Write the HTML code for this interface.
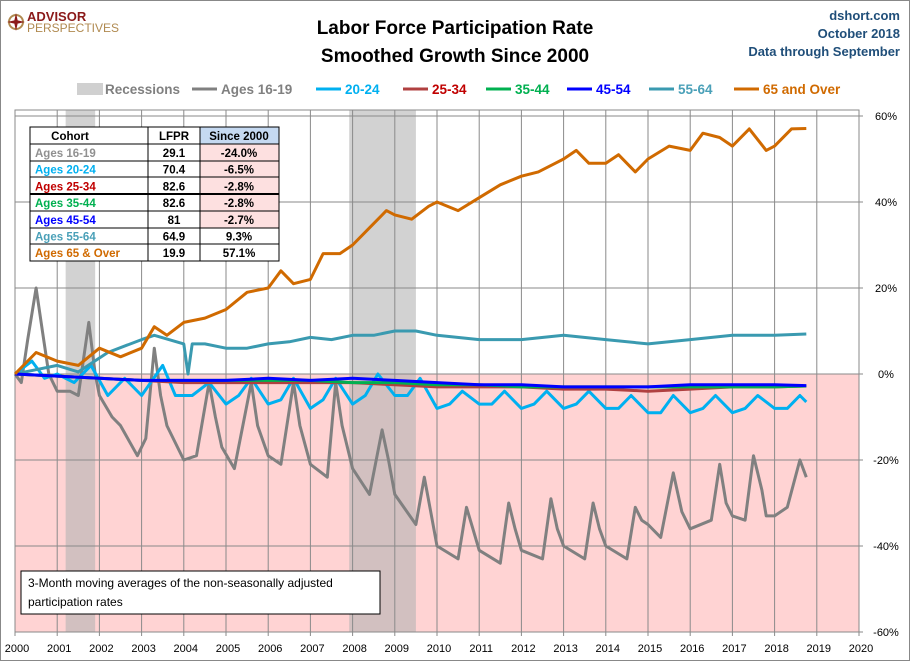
<!DOCTYPE html>
<html><head><meta charset="utf-8"><style>
body{margin:0;background:#fff;font-family:"Liberation Sans",sans-serif}
svg text{font-family:"Liberation Sans",sans-serif}
</style></head><body>
<svg id="chart" width="910" height="661" xmlns="http://www.w3.org/2000/svg">
<rect x="0.5" y="0.5" width="909" height="660" fill="#fff" stroke="#888"/>
<g>
<circle cx="16" cy="22" r="7" fill="none" stroke="#b08a50" stroke-width="2"/>
<path d="M16 13 L18 22 L16 31 L14 22 Z M7 22 L16 20 L25 22 L16 24 Z" fill="#8b1a1a"/>
<text x="27" y="21" font-size="13" font-weight="bold" fill="#8b1a1a">ADVISOR</text>
<text x="27" y="32" font-size="12" fill="#b08a50">PERSPECTIVES</text>
</g>
<text x="455" y="34" text-anchor="middle" font-size="19" font-weight="bold" fill="#000">Labor Force Participation Rate</text>
<text x="455" y="62" text-anchor="middle" font-size="19" font-weight="bold" fill="#000">Smoothed Growth Since 2000</text>
<text x="900" y="20" text-anchor="end" font-size="13" font-weight="bold" fill="#1f4e79">dshort.com</text>
<text x="900" y="38" text-anchor="end" font-size="13" font-weight="bold" fill="#1f4e79">October 2018</text>
<text x="900" y="56" text-anchor="end" font-size="13" font-weight="bold" fill="#1f4e79">Data through September</text>
<g id="legend"></g>
<g id="plot"></g>
<g font-size="11.5" font-weight="bold">
<rect x="30" y="127" width="249" height="134" fill="#fff" stroke="#000"/>
<rect x="200" y="127" width="79" height="17" fill="#c5d9f1"/>
<rect x="200" y="144" width="79" height="84" fill="#fde0e0"/>
<g stroke="#000" stroke-width="1">
<line x1="30" y1="144" x2="279" y2="144"/><line x1="30" y1="161" x2="279" y2="161"/><line x1="30" y1="177" x2="279" y2="177"/>
<line x1="30" y1="194" x2="279" y2="194" stroke-width="2"/><line x1="30" y1="211" x2="279" y2="211"/><line x1="30" y1="228" x2="279" y2="228"/><line x1="30" y1="244" x2="279" y2="244"/>
<line x1="148" y1="127" x2="148" y2="261"/><line x1="200" y1="127" x2="200" y2="261"/>
<rect x="30" y="127" width="249" height="134" fill="none"/>
</g>
<text x="70" y="140" text-anchor="middle">Cohort</text><text x="174" y="140" text-anchor="middle">LFPR</text><text x="239" y="140" text-anchor="middle">Since 2000</text>
<g id="tbody"></g>
</g>
<g>
<rect x="21" y="571" width="359" height="43" fill="#fff" stroke="#000"/>
<text x="28" y="587" font-size="12">3-Month moving averages of the non-seasonally adjusted</text>
<text x="28" y="606" font-size="12">participation rates</text>
</g>
</svg>
<script>
// ---- data ----
const yTicks=[60,40,20,0,-20,-40,-60];
const xTicks=[2000,2001,2002,2003,2004,2005,2006,2007,2008,2009,2010,2011,2012,2013,2014,2015,2016,2017,2018,2019,2020];
const recStart=[2001.2,2007.92];
const recEnd=[2001.9,2009.5];
const seriesNames=["Ages 16-19","20-24","25-34","35-44","45-54","55-64","65 and Over"];
const t1619=[2000,2000.15,2000.3,2000.5,2000.65,2000.8,2001,2001.3,2001.5,2001.75,2001.9,2002,2002.3,2002.5,2002.9,2003.1,2003.3,2003.45,2003.6,2004,2004.3,2004.6,2004.75,2004.9,2005.2,2005.6,2005.75,2006,2006.3,2006.6,2006.75,2007,2007.4,2007.6,2007.75,2008,2008.4,2008.7,2008.85,2009,2009.5,2009.7,2009.85,2010,2010.5,2010.7,2010.85,2011,2011.5,2011.7,2011.85,2012,2012.5,2012.7,2012.85,2013,2013.5,2013.7,2013.85,2014,2014.5,2014.7,2014.85,2015,2015.3,2015.6,2015.8,2016,2016.5,2016.7,2016.85,2017,2017.3,2017.5,2017.7,2017.8,2018,2018.3,2018.6,2018.75];
const v1619=[0,-2,8,20,10,0,-4,-4,-5,12,0,-5,-10,-12,-19,-15,6,-5,-12,-20,-19,-2,-10,-17,-22,-2,-12,-19,-21,-2,-12,-21,-24,-2,-12,-22,-28,-13,-20,-28,-35,-24,-32,-40,-43,-31,-36,-41,-44,-30,-36,-41,-43,-29,-36,-40,-43,-30,-36,-40,-43,-31,-34,-35,-38,-23,-32,-36,-34,-21,-30,-33,-34,-19,-27,-33,-33,-31,-20,-24];
const t2024=[2000,2000.4,2000.7,2001,2001.4,2001.8,2002.2,2002.6,2003,2003.5,2003.8,2004.2,2004.6,2005,2005.3,2005.6,2006,2006.3,2006.6,2007,2007.3,2007.6,2008,2008.3,2008.6,2009,2009.3,2009.6,2010,2010.3,2010.6,2011,2011.3,2011.6,2012,2012.3,2012.6,2013,2013.3,2013.6,2014,2014.3,2014.6,2015,2015.3,2015.6,2016,2016.3,2016.6,2017,2017.3,2017.6,2018,2018.3,2018.6,2018.75];
const v2024=[0,3,-1,0,-2,2,-5,-1,-5,2,-5,-5,-2,-7,-5,-1,-7,-6,-1,-8,-6,-1,-7,-5,0,-5,-5,-1,-8,-7,-4,-7,-7,-4,-8,-7,-4,-8,-7,-4,-8,-8,-5,-9,-9,-5,-9,-8,-5,-9,-8,-5,-8,-8,-5,-6.5];
const tFlat=[2000,2001,2002,2003,2004,2005,2006,2007,2008,2009,2010,2011,2012,2013,2014,2015,2016,2017,2018,2018.75];
const v2534=[0,-0.5,-1,-1.5,-2,-2,-2,-2,-2,-2.5,-3,-3,-3,-3.5,-3.5,-4,-3.5,-3,-3,-2.8];
const v3544=[0,-0.5,-1,-1.5,-1.5,-1.5,-1.5,-1.5,-2,-2,-2.5,-2.5,-3,-3,-3,-3,-3,-3,-3,-2.8];
const v4554=[0,-0.5,-1,-1.5,-1.5,-1.5,-1,-1.5,-1,-1.5,-2,-2.5,-2.5,-3,-3,-3,-2.5,-2.5,-2.5,-2.7];
const t5564=[2000,2000.5,2001,2001.5,2002.2,2003,2003.3,2004,2004.1,2004.2,2004.5,2005,2005.5,2006,2006.5,2007,2007.5,2008,2008.5,2009,2009.5,2010,2011,2012,2013,2014,2015,2016,2017,2018,2018.75];
const v5564=[0,1,2,0.5,5,8,9,7,0,7,7,6,6,7,7.5,8.5,8,9,9,10,10,9,8,8,9,8,7,8,9,9,9.3];
const t65=[2000,2000.5,2001,2001.5,2002,2002.5,2003,2003.3,2003.6,2004,2004.5,2005,2005.5,2006,2006.3,2006.6,2007,2007.3,2007.7,2008,2008.4,2008.8,2009,2009.4,2009.8,2010,2010.5,2011,2011.5,2012,2012.4,2012.8,2013,2013.3,2013.6,2014,2014.3,2014.7,2015,2015.5,2016,2016.3,2016.7,2017,2017.4,2017.8,2018,2018.4,2018.75];
const v65=[0,5,3,2,6,4,6,11,9,12,13,15,19,20,24,21,22,28,28,30,34,38,37,36,39,40,38,41,44,46,47,49,50,52,49,49,51,47,50,53,52,56,55,53,57,52,53,57,57.1];
const cohorts=["Ages 16-19","Ages 20-24","Ages 25-34","Ages 35-44","Ages 45-54","Ages 55-64","Ages 65 & Over"];
const lfpr=["29.1","70.4","82.6","82.6","81","64.9","19.9"];
const since=["-24.0%","-6.5%","-2.8%","-2.8%","-2.7%","9.3%","57.1%"];
// ---- drawing ----
const NS="http://www.w3.org/2000/svg";
const X0=15,X1=859,Y0=116,Y1=632;
const xs=t=>X0+(t-2000)/20*(X1-X0);
const ys=v=>Y0+(60-v)/120*(Y1-Y0);
function mk(tag,attrs,parent){const e=document.createElementNS(NS,tag);for(const k in attrs)e.setAttribute(k,attrs[k]);parent.appendChild(e);return e;}
const plot=document.getElementById('plot');
const bgTop=mk('rect',{x:X0,y:110,width:X1-X0,height:ys(0)-110,fill:'#fff'},plot);


const neg=mk('rect',{x:X0,y:ys(0),width:X1-X0,height:Y1-ys(0),fill:'#ffd3d3'},plot);


for(let i=0;i<recStart.length;i++){
 const r=mk('rect',{x:xs(recStart[i]),y:110,width:xs(recEnd[i])-xs(recStart[i]),height:Y1-110,fill:'#b4b4b4','fill-opacity':0.6},plot);
 
 
}
xTicks.forEach(t=>{
 const l=mk('line',{x1:xs(t),x2:xs(t),y1:110,y2:Y1+4,stroke:'#8a8a8a','stroke-width':1},plot);
 
 
 const tx=mk('text',{x:xs(t)+2,y:652,'text-anchor':'middle','font-size':11},plot);
 tx.textContent=t;
 
 
});
yTicks.forEach(v=>{
 const l=mk('line',{x1:X0,x2:X1+4,y1:ys(v),y2:ys(v),stroke:'#8a8a8a','stroke-width':1},plot);
 
 
 const tx=mk('text',{x:886,y:ys(v)+4,'text-anchor':'middle','font-size':11},plot);
 tx.textContent=v+'%';
 
 
});
const frame=mk('rect',{x:X0,y:110,width:X1-X0,height:Y1-110,fill:'none',stroke:'#8a8a8a'},plot);


const series=[[t1619,v1619,'#808080','series-16-19'],[t2024,v2024,'#00b0f0','series-20-24'],[tFlat,v2534,'#b04040','series-25-34'],[tFlat,v3544,'#00b050','series-35-44'],[t5564,v5564,'#3a9ab0','series-55-64'],[tFlat,v4554,'#0000ff','series-45-54'],[t65,v65,'#d06a00','series-65-over']];
series.forEach(s=>{
 const d=s[0].map((t,i)=>(i?'L':'M')+xs(t).toFixed(1)+' '+ys(s[1][i]).toFixed(1)).join(' ');
 const p=mk('path',{d:d,fill:'none',stroke:s[2],'stroke-width':3,'stroke-linejoin':'round'},plot);
 
 
});
// legend
const lg=document.getElementById('legend');
const lcol=['#808080','#00b0f0','#b04040','#00b050','#0000ff','#3a9ab0','#d06a00'];
const ltxt=['#808080','#00b0f0','#c00000','#00b050','#0000ff','#4aa0b8','#d06a00'];
const lx=[192,316,403,486,567,649,734];
const rr=mk('rect',{x:77,y:83,width:26,height:12,fill:'#d0d0d0'},lg);


const rt=mk('text',{x:105,y:94,'font-size':13.5,'font-weight':'bold',fill:'#808080'},lg);
rt.textContent='Recessions';


seriesNames.forEach((n,i)=>{
 const l=mk('line',{x1:lx[i],x2:lx[i]+25,y1:89,y2:89,stroke:lcol[i],'stroke-width':3},lg);
 
 
 const t=mk('text',{x:lx[i]+29,y:94,'font-size':13.5,'font-weight':'bold',fill:ltxt[i]},lg);
 t.textContent=n;
 
 
});
// table
const tb=document.getElementById('tbody');
const ccol=['#909090','#00b0f0','#c00000','#00b050','#0000ff','#4aa0b8','#d06a00'];
cohorts.forEach((c,i)=>{
 const y=157+i*16.7;
 const a=mk('text',{x:35,y:y,fill:ccol[i]},tb);a.textContent=c;
 
 
 const b=mk('text',{x:174,y:y,'text-anchor':'middle'},tb);b.textContent=lfpr[i];
 
 
 const d=mk('text',{x:239,y:y,'text-anchor':'middle'},tb);d.textContent=since[i];
 
 
});
</script>
</body></html>
